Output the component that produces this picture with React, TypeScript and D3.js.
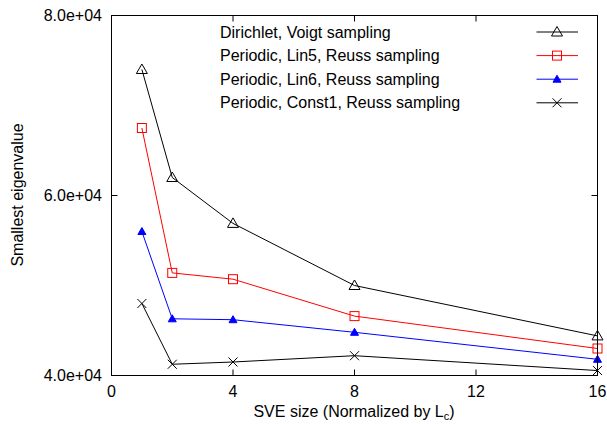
import React from 'react';
import { scaleLinear, line } from 'd3';

const sizes = [1, 2, 4, 8, 16];
const dirichletVoigt = [74000, 62000, 56900, 50000, 44400];
const periodicLin5 = [67500, 51400, 50700, 46600, 43000];
const periodicLin6 = [56000, 46300, 46200, 44800, 41800];
const periodicConst1 = [48000, 41250, 41500, 42200, 40550];
const xTicks = [0, 4, 8, 12, 16];
const yTicks = [40000, 60000, 80000];
const yTickLabels = ['4.0e+04', '6.0e+04', '8.0e+04'];

const series = [
    { name: 'Dirichlet, Voigt sampling', values: dirichletVoigt, color: '#000', marker: 'triangle' },
    { name: 'Periodic, Lin5, Reuss sampling', values: periodicLin5, color: '#ff0000', marker: 'square' },
    { name: 'Periodic, Lin6, Reuss sampling', values: periodicLin6, color: '#0000ff', marker: 'filledTriangle' },
    { name: 'Periodic, Const1, Reuss sampling', values: periodicConst1, color: '#000', marker: 'cross' },
];

const Marker = ({ type, x, y, color }) => {
    if (type === 'triangle')
        return <path d={`M${x},${y - 5.5} L${x + 5.5},${y + 4} L${x - 5.5},${y + 4} Z`} fill="none" stroke={color} />
    if (type === 'square')
        return <rect x={x - 4.5} y={y - 4.5} width={9} height={9} fill="none" stroke={color} />
    if (type === 'filledTriangle')
        return <path d={`M${x},${y - 4} L${x + 4},${y + 3} L${x - 4},${y + 3} Z`} fill={color} stroke={color} />
    return <path d={`M${x - 4.5},${y - 4.5} L${x + 4.5},${y + 4.5} M${x - 4.5},${y + 4.5} L${x + 4.5},${y - 4.5}`} stroke={color} />
}

const App = () => {
    const width = 607
    const height = 424
    const left = 111.5
    const right = 597.5
    const top = 15.5
    const bottom = 375.5

    const xScale = scaleLinear().domain([0, 16]).range([left, right])
    const yScale = scaleLinear().domain([40000, 80000]).range([bottom, top])
    const lineGen = line<number>()
        .x((d, i) => xScale(sizes[i]))
        .y(d => yScale(d))

    const font = 'Liberation Sans, Arial, Helvetica, sans-serif'
    const fs = 16

    return (
        <svg width={width} height={height} style={{ position: 'absolute', left: 0, top: 0 }} fontFamily={font}>
            <rect width={width} height={height} fill="#fff" />

            {xTicks.map(t =>
                <g key={`xt-${t}`}>
                    <line x1={xScale(t)} x2={xScale(t)} y1={bottom} y2={bottom - 6} stroke="#000" />
                    <line x1={xScale(t)} x2={xScale(t)} y1={top} y2={top + 6} stroke="#000" />
                    <text x={xScale(t)} y={397} textAnchor="middle" fontSize={fs}>{t}</text>
                </g>
            )}

            {yTicks.map((t, i) =>
                <g key={`yt-${t}`}>
                    <line x1={left} x2={left + 6} y1={yScale(t)} y2={yScale(t)} stroke="#000" />
                    <line x1={right} x2={right - 6} y1={yScale(t)} y2={yScale(t)} stroke="#000" />
                    <text x={102} y={yScale(t)} dy="0.35em" textAnchor="end" fontSize={fs}>{yTickLabels[i]}</text>
                </g>
            )}

            {series.map(s =>
                <g key={s.name}>
                    <path d={lineGen(s.values)} fill="none" stroke={s.color} strokeWidth={1} />
                    {s.values.map((v, i) =>
                        <Marker key={i} type={s.marker} x={xScale(sizes[i])} y={yScale(v)} color={s.color} />
                    )}
                </g>
            )}

            {series.map((s, i) => {
                const ly = 32 + i * 23.6
                return (
                    <g key={`lg-${s.name}`}>
                        <text x={220} y={ly} dy="0.35em" fontSize={fs}>{s.name}</text>
                        <line x1={536.5} x2={578} y1={ly} y2={ly} stroke={s.color} />
                        <Marker type={s.marker} x={557} y={ly} color={s.color} />
                    </g>
                )
            })}

            <rect x={left} y={top} width={right - left} height={bottom - top} fill="none" stroke="#000" />

            <text x={354} y={417} textAnchor="middle" fontSize={fs}>
                SVE size (Normalized by L<tspan dy={3} fontSize={11}>c</tspan><tspan dy={-3}>)</tspan>
            </text>
            <text transform={`translate(23, 195) rotate(-90)`} textAnchor="middle" fontSize={fs}>Smallest eigenvalue</text>
        </svg>
    )
}

export default App
